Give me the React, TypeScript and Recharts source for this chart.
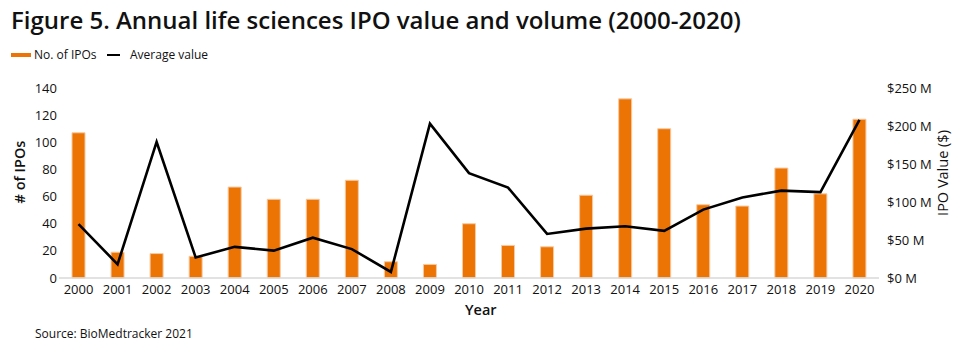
import React from "react";
import { ComposedChart, Bar, Line, XAxis, YAxis } from "recharts";

const years = [
  "2000", "2001", "2002", "2003", "2004", "2005", "2006", "2007", "2008", "2009", "2010",
  "2011", "2012", "2013", "2014", "2015", "2016", "2017", "2018", "2019", "2020",
];
const ipoCount = [107, 19, 18, 16, 67, 58, 58, 72, 12, 10, 40, 24, 23, 61, 132, 110, 54, 53, 81, 62, 117];
const avgValue = [71, 18, 179, 27, 41, 36, 53, 38, 8, 203, 138, 119, 58, 65, 68, 62, 90, 106, 115, 113, 208];
const countTicks = [0, 20, 40, 60, 80, 100, 120, 140];
const valueTicks = [0, 50, 100, 150, 200, 250];

const ORANGE = "#EC7404";
const FONT = "'Open Sans', 'Noto Sans', sans-serif";
const TICK = { fontSize: 13, fill: "#111", fontFamily: FONT };

const data = years.map((y, i) => ({ year: y, count: ipoCount[i], value: avgValue[i] }));

export default function App() {
  return (
    <div style={{ position: "absolute", left: 0, top: 0, width: 960, height: 350, background: "#fff", fontFamily: FONT, color: "#111" }}>
      <div style={{ position: "absolute", left: 11, top: 3, fontSize: 24, fontWeight: 600, whiteSpace: "nowrap" }}>
        Figure 5. Annual life sciences IPO value and volume (2000-2020)
      </div>

      {/* legend */}
      <div style={{ position: "absolute", left: 11, top: 53, width: 20, height: 4, background: ORANGE }} />
      <div style={{ position: "absolute", left: 34, top: 46, fontSize: 12 }}>No. of IPOs</div>
      <div style={{ position: "absolute", left: 107, top: 54, width: 13, height: 1.5, background: "#000" }} />
      <div style={{ position: "absolute", left: 130, top: 46, fontSize: 12 }}>Average value</div>

      <ComposedChart width={960} height={350} data={data} margin={{ top: 88, right: 0, bottom: 42, left: 0 }}>
        <XAxis
          dataKey="year" tick={TICK} tickLine={false} tickSize={0} tickMargin={7} interval={0}
          axisLine={{ stroke: "#D9D9D9", strokeWidth: 1.5 }} height={30}
        />
        <YAxis
          yAxisId="left" domain={[0, 140]} ticks={countTicks} width={59} tick={TICK}
          axisLine={false} tickLine={false} tickSize={0} tickMargin={2}
        />
        <YAxis
          yAxisId="right" orientation="right" domain={[0, 250]} ticks={valueTicks} width={81}
          tick={TICK} axisLine={false} tickLine={false} tickFormatter={(v: number) => `$${v} M`}
        />
        <Bar yAxisId="left" dataKey="count" fill={ORANGE} stroke="#F8C9A0" strokeWidth={1} barSize={13} isAnimationActive={false} />
        <Line
          yAxisId="right" type="linear" dataKey="value" stroke="#000" strokeWidth={2.6}
          dot={false} activeDot={false} isAnimationActive={false}
        />
      </ComposedChart>

      <div style={{ position: "absolute", left: 465, top: 300, fontSize: 14.5, fontWeight: 600 }}>Year</div>
      <div style={{ position: "absolute", left: 19, top: 172, fontSize: 14.5, fontWeight: 600, whiteSpace: "nowrap", transform: "translate(-50%, -50%) rotate(-90deg)" }}>
        # of IPOs
      </div>
      <div style={{ position: "absolute", left: 942, top: 173, fontSize: 14.5, fontWeight: 400, whiteSpace: "nowrap", transform: "translate(-50%, -50%) rotate(-90deg)" }}>
        IPO Value ($)
      </div>
      <div style={{ position: "absolute", left: 35, top: 325, fontSize: 12 }}>Source: BioMedtracker 2021</div>
    </div>
  );
}
